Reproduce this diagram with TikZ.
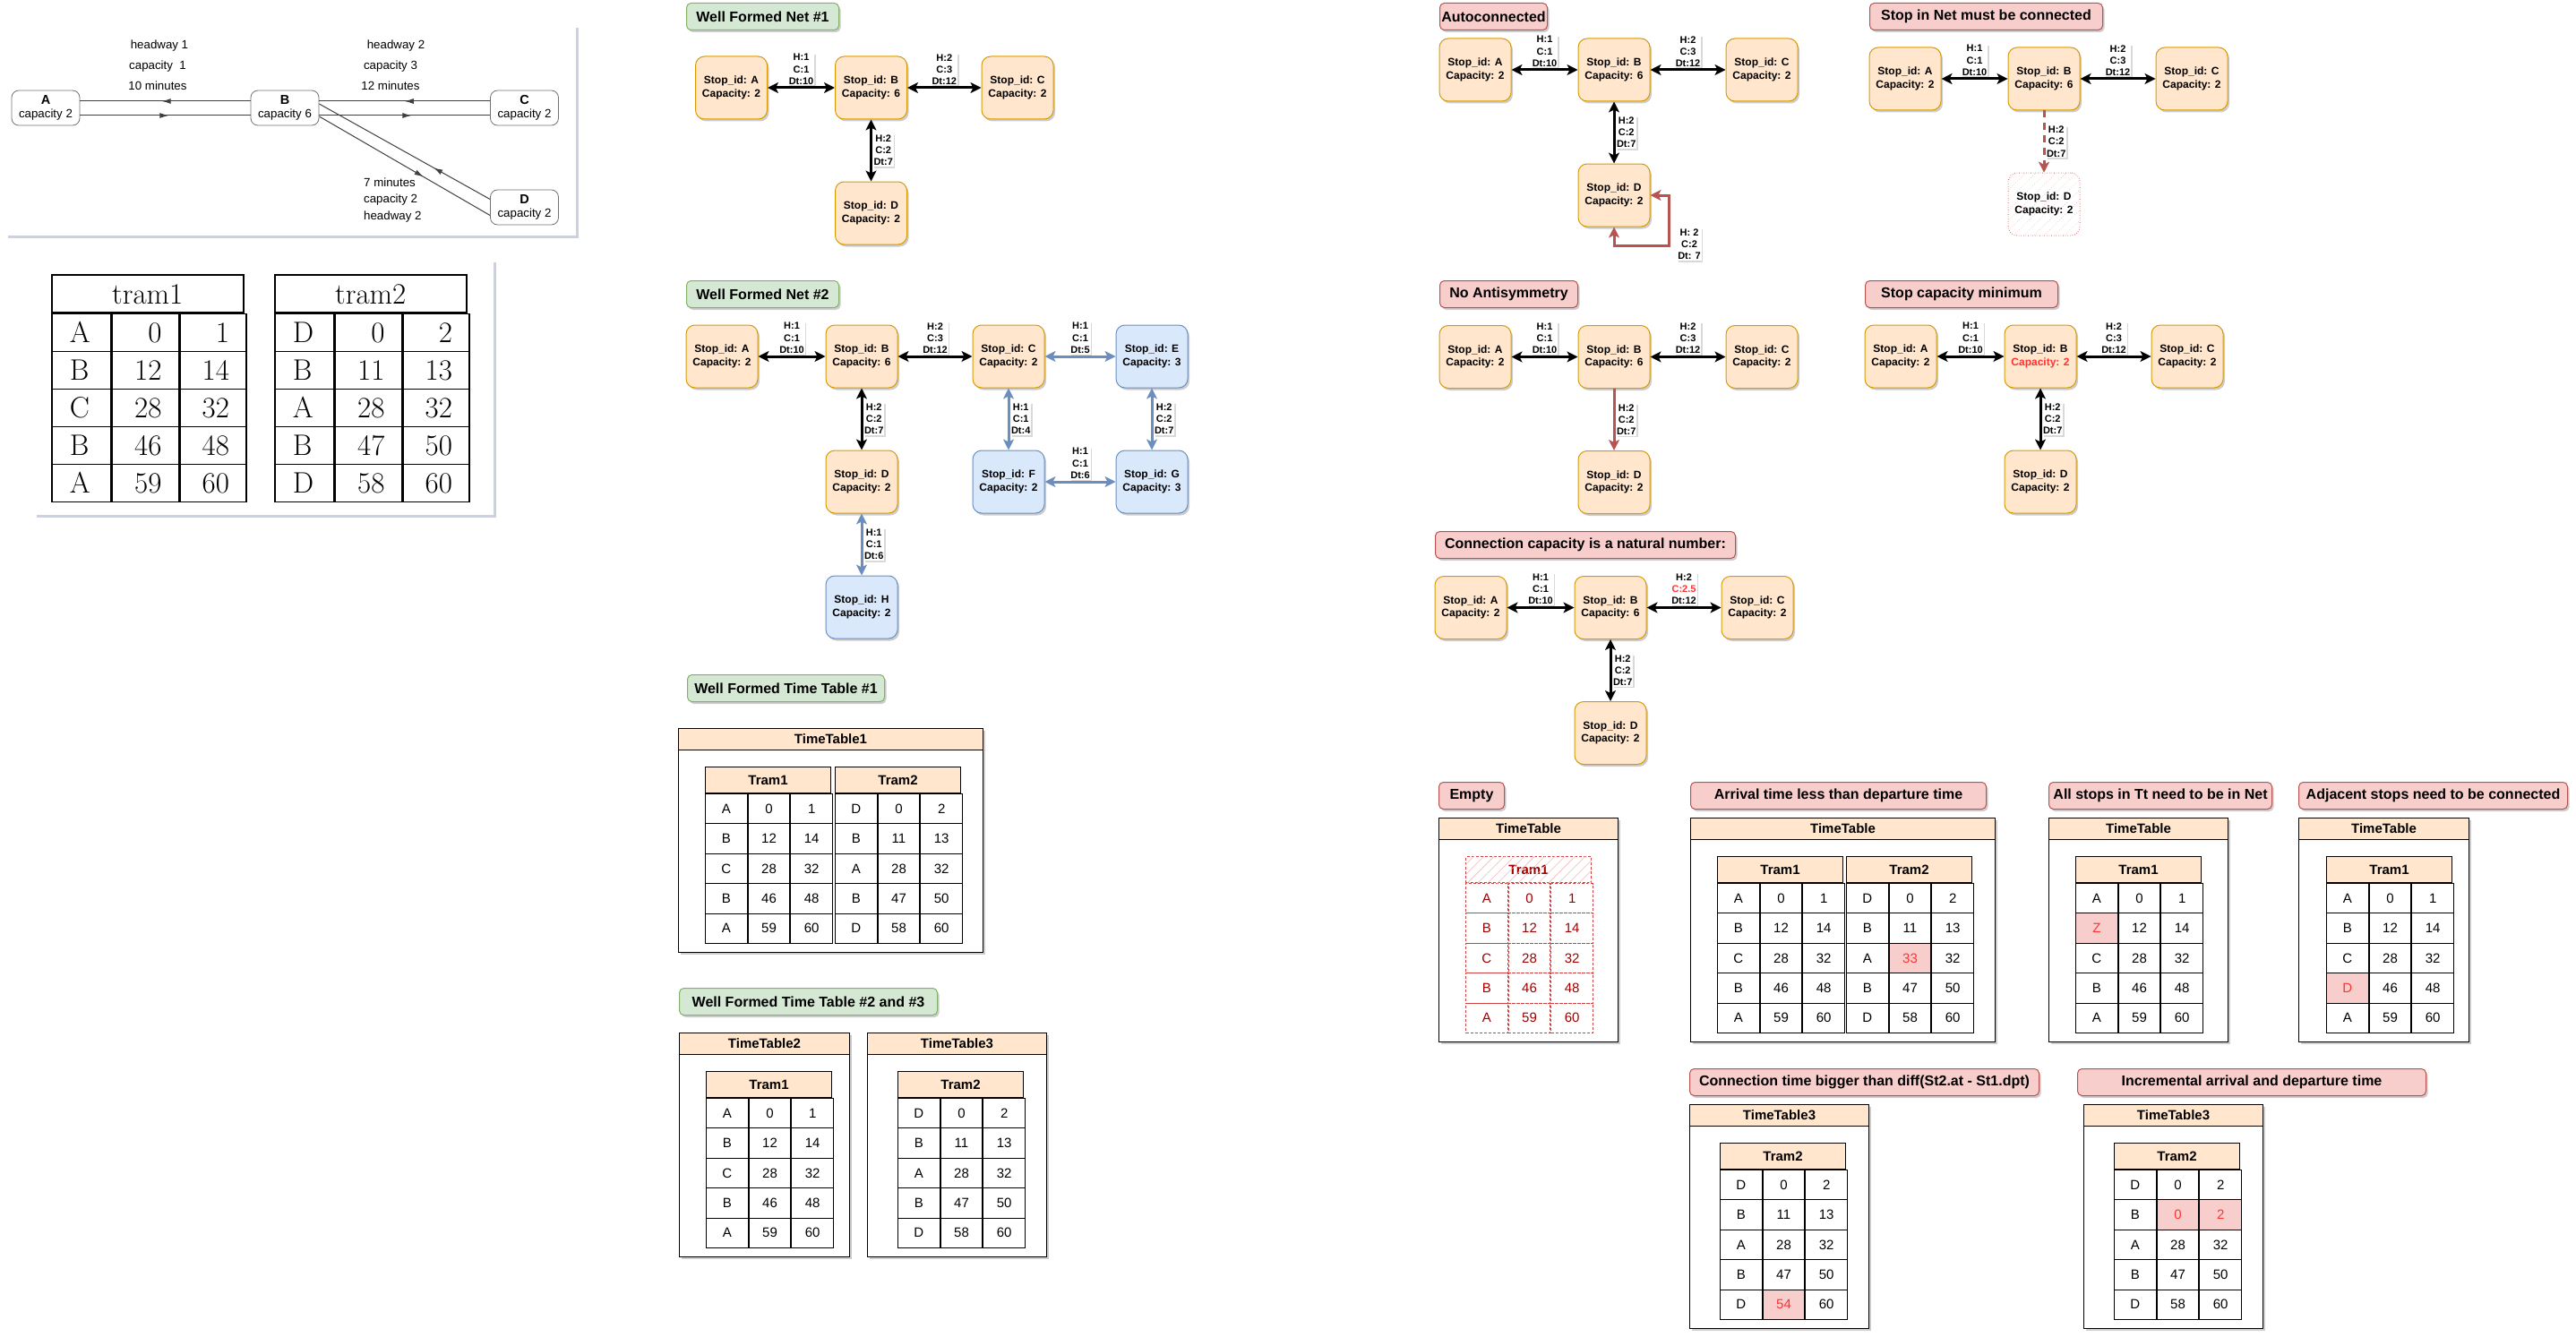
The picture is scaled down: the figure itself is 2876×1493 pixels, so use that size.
\documentclass[tikz,border=0pt]{standalone}
\usepackage{fontspec}
\newfontfamily\lsans{Liberation Sans}
\usetikzlibrary{arrows.meta,shadows,patterns.meta,decorations.markings}

\definecolor{stopfill}{HTML}{FFE6CC}
\definecolor{stopdraw}{HTML}{D79B00}
\definecolor{bluefill}{HTML}{DAE8FC}
\definecolor{bluedraw}{HTML}{6C8EBF}
\definecolor{okfill}{HTML}{D5E8D4}
\definecolor{okdraw}{HTML}{82B366}
\definecolor{badfill}{HTML}{F8CECC}
\definecolor{baddraw}{HTML}{B85450}
\definecolor{hotred}{HTML}{FF3333}
\definecolor{darkred}{HTML}{A00000}
\definecolor{emptyred}{HTML}{D04040}
\definecolor{hatchpink}{HTML}{F5B8B8}
\definecolor{panelshade}{HTML}{CBD0E2}

% table of one tram: name, top left, header, rows
\newcommand{\tramtab}[5][]{%
  \node[tabhead,#1] (#2h) at (#3) {#4};
  \foreach \s/\a/\d [count=\i] in {#5} {
    \node[tcell,#1] (#2s\i) at ([yshift={-(\i-1)*33.4pt}]#2h.south west) {\s};
    \node[tcell,#1] (#2a\i) at (#2s\i.north east) {\a};
    \node[tcell,#1] (#2d\i) at (#2a\i.north east) {\d};
  }
}
% frame of a time table: name, top left, width, title
\newcommand{\ttbox}[4]{%
  \node[ttframe,minimum width=#3] (#1) at (#2) {};
  \node[tthead,minimum width=#3] (#1h) at (#1.north west) {#4};
}
% scanned table
\newcommand{\scantab}[4]{%
  \node[scanhead] (#1h) at (#2) {#3};
  \foreach \s/\a/\d [count=\i] in {#4} {
    \node[scanl] (#1s\i) at ([yshift={-(\i-1)*42pt}]#1h.south west) {\s};
    \node[scanr] (#1a\i) at (#1s\i.north east) {\a};
    \node[scanr] (#1d\i) at (#1a\i.north east) {\d};
  }
}

\tikzset{
  >={Stealth[length=12pt,width=12pt,inset=3pt]},
  softshadow/.style={drop shadow={shadow xshift=2pt,shadow yshift=-2.5pt,opacity=0.2,fill=black}},
  okhead/.style={rectangle,rounded corners=5pt,draw=okdraw,fill=okfill,line width=1pt,
    minimum height=30pt,inner sep=0pt,anchor=north west,softshadow,
    font=\lsans\bfseries\fontsize{16}{19}\selectfont},
  badhead/.style={okhead,draw=baddraw,fill=badfill},
  stopbox/.style={rectangle,rounded corners=10pt,draw=stopdraw,fill=stopfill,line width=1pt,
    minimum width=80pt,minimum height=70pt,inner sep=2pt,align=center,softshadow,
    font=\lsans\bfseries\fontsize{12}{14.4}\selectfont},
  bluebox/.style={stopbox,draw=bluedraw,fill=bluefill},
  ghostbox/.style={rectangle,rounded corners=10pt,draw=emptyred!80,dotted,line width=1pt,
    pattern={Lines[angle=45,distance=8pt,line width=0.6pt]},pattern color=hatchpink,
    minimum width=80pt,minimum height=70pt,inner sep=2pt,align=center,
    font=\lsans\bfseries\fontsize{12}{14.4}\selectfont},
  conn/.style={line width=3pt,<->},
  oneway/.style={line width=3pt,->},
  elbl/.style={fill=white,inner sep=1pt,align=center,
    drop shadow={shadow xshift=1.5pt,shadow yshift=-1.5pt,opacity=0.15,fill=black},
    font=\lsans\bfseries\fontsize{11}{13.2}\selectfont},
  tcell/.style={rectangle,draw=black,line width=1pt,fill=white,anchor=north west,
    minimum width=46.67pt,minimum height=33.4pt,inner sep=0pt,
    font=\lsans\fontsize{15}{18}\selectfont},
  tabhead/.style={tcell,fill=stopfill,minimum width=140pt,minimum height=29pt,
    font=\lsans\bfseries\fontsize{15}{18}\selectfont},
  hlcell/.style={tcell,anchor=center,fill=badfill,text=hotred},
  emptycell/.style={draw=emptyred,dash pattern=on 3pt off 2pt,text=darkred,fill=none},
  ttframe/.style={rectangle,draw=black,line width=1pt,fill=white,anchor=north west,
    minimum height=250pt,inner sep=0pt,softshadow},
  tthead/.style={rectangle,draw=black,line width=1pt,fill=stopfill,anchor=north west,
    minimum height=24pt,inner sep=0pt,font=\lsans\bfseries\fontsize{15}{18}\selectfont},
  panel/.style={rectangle,fill=white,anchor=north west,inner sep=0pt,
    drop shadow={shadow xshift=3pt,shadow yshift=-3pt,opacity=1,fill=panelshade}},
  tnode/.style={rectangle,rounded corners=8pt,draw=black!55,fill=white,line width=0.8pt,
    minimum width=76pt,minimum height=39pt,inner sep=0pt,align=center,
    font=\lsans\fontsize{13.3}{14.5}\selectfont},
  tnote/.style={inner sep=0pt,font=\lsans\fontsize{13.3}{14}\selectfont},
  tline/.style={draw=black!75,line width=1pt},
  tflow/.style={tline,postaction={decorate},
    decoration={markings,mark=at position #1 with {\arrow{Latex[length=10pt,width=6pt]}}}},
  scanl/.style={rectangle,draw=black,line width=1.6pt,anchor=north west,
    minimum height=42pt,text width=26pt,inner xsep=20pt,inner ysep=0pt,align=left,
    text height=23pt,text depth=0pt,font=\fontsize{33}{36}\selectfont},
  scanr/.style={scanl,text width=36pt,inner xsep=19pt,align=right},
  scanhead/.style={scanl,text width=174pt,align=center},
}

\begin{document}
\begin{tikzpicture}[x=1pt,y=-1pt]
  \useasboundingbox (0,0) rectangle (2876,1493);

  % scanned net
  \node[panel,minimum width=637pt,minimum height=235pt] (pan1) at (6,28) {};
  \node[tnode] (ta) at (51,120.5) {{\fontsize{14.5}{14.5}\selectfont\bfseries A}\\capacity 2};
  \node[tnode] (tb) at (318,120.5) {{\fontsize{14.5}{14.5}\selectfont\bfseries B}\\capacity 6};
  \node[tnode] (tc) at (585.5,120.5) {{\fontsize{14.5}{14.5}\selectfont\bfseries C}\\capacity 2};
  \node[tnode] (td) at (585.5,231.5) {{\fontsize{14.5}{14.5}\selectfont\bfseries D}\\capacity 2};
  \draw[tflow=0.52] ([yshift=7.5pt]tb.west) -- ([yshift=7.5pt]ta.east);
  \draw[tflow=0.52] ([yshift=-8.5pt]ta.east) -- ([yshift=-8.5pt]tb.west);
  \draw[tflow=0.5] ([yshift=7.5pt]tc.west) -- ([yshift=7.5pt]tb.east);
  \draw[tflow=0.54] ([yshift=-8.5pt]tb.east) -- ([yshift=-8.5pt]tc.west);
  \draw[tflow=0.33] ([yshift=9pt]td.west) -- ([yshift=4.5pt]tb.east);
  \draw[tflow=0.61] ([yshift=-9.5pt]tb.east) -- ([yshift=-9pt]td.west);
  \node[tnote] (hw1) at (178,51.5) {headway 1};
  \node[tnote] (cp1) at (176,74) {capacity\ \ 1};
  \node[tnote] (mn1) at (176,96) {10 minutes};
  \node[tnote] (hw2) at (442,51.5) {headway 2};
  \node[tnote] (cp2) at (436,74) {capacity 3};
  \node[tnote] (mn2) at (436,96) {12 minutes};
  \node[tnote,anchor=west] (mn3) at (406,204) {7 minutes};
  \node[tnote,anchor=west] (cp3) at (406,223) {capacity 2};
  \node[tnote,anchor=west] (hw3) at (406,242) {headway 2};

  % scanned tables
  \node[panel,minimum width=513pt,minimum height=285pt] (pan2) at (38,290) {};
  \scantab{sa}{57,306}{tram1}{A/0/1,B/12/14,C/28/32,B/46/48,A/59/60}
  \scantab{sb}{306,306}{tram2}{D/0/2,B/11/13,A/28/32,B/47/50,D/58/60}

  % well formed net 1
  \node[okhead,minimum width=170pt] (n1t) at (766,3) {Well Formed Net \#1};
  \node[stopbox] (n1a) at (816.5,98) {Stop\_id: A\\Capacity: 2};
  \node[stopbox] (n1b) at (972.5,98) {Stop\_id: B\\Capacity: 6};
  \node[stopbox] (n1c) at (1136,98) {Stop\_id: C\\Capacity: 2};
  \node[stopbox] (n1d) at (972.5,238) {Stop\_id: D\\Capacity: 2};
  \draw[conn] (n1a) -- (n1b) node[midway,above=1pt,elbl] {H:1\\C:1\\Dt:10};
  \draw[conn] (n1b) -- (n1c) node[midway,above=1pt,elbl] {H:2\\C:3\\Dt:12};
  \draw[conn] (n1b) -- (n1d) node[midway,right=0.5pt,elbl] {H:2\\C:2\\Dt:7};

  % well formed net 2
  \node[okhead,minimum width=170pt] (n2t) at (766,313) {Well Formed Net \#2};
  \node[stopbox] (n2a) at (806,398) {Stop\_id: A\\Capacity: 2};
  \node[stopbox] (n2b) at (962,398) {Stop\_id: B\\Capacity: 6};
  \node[stopbox] (n2c) at (1126,398) {Stop\_id: C\\Capacity: 2};
  \node[bluebox] (n2e) at (1286,398) {Stop\_id: E\\Capacity: 3};
  \node[stopbox] (n2d) at (962,538) {Stop\_id: D\\Capacity: 2};
  \node[bluebox] (n2f) at (1126,538) {Stop\_id: F\\Capacity: 2};
  \node[bluebox] (n2g) at (1286,538) {Stop\_id: G\\Capacity: 3};
  \node[bluebox] (n2h) at (962,678) {Stop\_id: H\\Capacity: 2};
  \draw[conn] (n2a) -- (n2b) node[midway,above=1pt,elbl] {H:1\\C:1\\Dt:10};
  \draw[conn] (n2b) -- (n2c) node[midway,above=1pt,elbl] {H:2\\C:3\\Dt:12};
  \draw[conn,draw=bluedraw] (n2c) -- (n2e) node[midway,above=1pt,elbl] {H:1\\C:1\\Dt:5};
  \draw[conn] (n2b) -- (n2d) node[midway,right=0.5pt,elbl] {H:2\\C:2\\Dt:7};
  \draw[conn,draw=bluedraw] (n2c) -- (n2f) node[midway,right=0.5pt,elbl] {H:1\\C:1\\Dt:4};
  \draw[conn,draw=bluedraw] (n2e) -- (n2g) node[midway,right=0.5pt,elbl] {H:2\\C:2\\Dt:7};
  \draw[conn,draw=bluedraw] (n2f) -- (n2g) node[midway,above=1pt,elbl] {H:1\\C:1\\Dt:6};
  \draw[conn,draw=bluedraw] (n2d) -- (n2h) node[midway,right=0.5pt,elbl] {H:1\\C:1\\Dt:6};

  % well formed time tables
  \node[okhead,minimum width=220pt] (wt1) at (767,753) {Well Formed Time Table \#1};
  \ttbox{tt1}{757,813}{340pt}{TimeTable1}
  \tramtab{tt1a}{787,856}{Tram1}{A/0/1,B/12/14,C/28/32,B/46/48,A/59/60}
  \tramtab{tt1b}{932,856}{Tram2}{D/0/2,B/11/13,A/28/32,B/47/50,D/58/60}

  \node[okhead,minimum width=288pt] (wt2) at (758,1103) {Well Formed Time Table \#2 and \#3};
  \ttbox{tt2}{758,1153}{190pt}{TimeTable2}
  \tramtab{tt2a}{788,1196}{Tram1}{A/0/1,B/12/14,C/28/32,B/46/48,A/59/60}
  \ttbox{tt3}{968,1153}{200pt}{TimeTable3}
  \tramtab{tt3a}{1002,1196}{Tram2}{D/0/2,B/11/13,A/28/32,B/47/50,D/58/60}

  % autoconnected
  \node[badhead,minimum width=120pt] (act) at (1607,3) {Autoconnected};
  \node[stopbox] (aca) at (1647,78) {Stop\_id: A\\Capacity: 2};
  \node[stopbox] (acb) at (1802,78) {Stop\_id: B\\Capacity: 6};
  \node[stopbox] (acc) at (1967,78) {Stop\_id: C\\Capacity: 2};
  \node[stopbox] (acd) at (1802,218) {Stop\_id: D\\Capacity: 2};
  \draw[conn] (aca) -- (acb) node[midway,above=1pt,elbl] {H:1\\C:1\\Dt:10};
  \draw[conn] (acb) -- (acc) node[midway,above=1pt,elbl] {H:2\\C:3\\Dt:12};
  \draw[conn] (acb) -- (acd) node[midway,right=0.5pt,elbl] {H:2\\C:2\\Dt:7};
  \draw[conn,draw=baddraw] (acd.south) -- ++(0,21) -| ([xshift=21pt]acd.east) -- (acd.east);
  \node[elbl] (acl) at (1886,273) {H: 2\\C:2\\Dt: 7};

  % stop in net must be connected
  \node[badhead,minimum width=260pt] (snt) at (2087,3) {Stop in Net must be connected};
  \node[stopbox] (sna) at (2127,88) {Stop\_id: A\\Capacity: 2};
  \node[stopbox] (snb) at (2282,88) {Stop\_id: B\\Capacity: 6};
  \node[stopbox] (snc) at (2447,88) {Stop\_id: C\\Capacity: 2};
  \node[ghostbox] (snd) at (2282,228) {Stop\_id: D\\Capacity: 2};
  \draw[conn] (sna) -- (snb) node[midway,above=1pt,elbl] {H:1\\C:1\\Dt:10};
  \draw[conn] (snb) -- (snc) node[midway,above=1pt,elbl] {H:2\\C:3\\Dt:12};
  \draw[oneway,draw=baddraw,dash pattern=on 8pt off 6pt] (snb) -- (snd)
    node[midway,right=0.5pt,elbl] {H:2\\C:2\\Dt:7};

  % no antisymmetry
  \node[badhead,minimum width=154pt] (nat) at (1607,313) {No Antisymmetry};
  \node[stopbox] (naa) at (1647,398.5) {Stop\_id: A\\Capacity: 2};
  \node[stopbox] (nab) at (1802,398.5) {Stop\_id: B\\Capacity: 6};
  \node[stopbox] (nac) at (1967,398.5) {Stop\_id: C\\Capacity: 2};
  \node[stopbox] (nad) at (1802,538.5) {Stop\_id: D\\Capacity: 2};
  \draw[conn] (naa) -- (nab) node[midway,above=1pt,elbl] {H:1\\C:1\\Dt:10};
  \draw[conn] (nab) -- (nac) node[midway,above=1pt,elbl] {H:2\\C:3\\Dt:12};
  \draw[oneway,draw=baddraw] (nab) -- (nad) node[midway,right=0.5pt,elbl] {H:2\\C:2\\Dt:7};

  % stop capacity minimum
  \node[badhead,minimum width=215pt] (cmt) at (2082,313) {Stop capacity minimum};
  \node[stopbox] (cma) at (2122,398) {Stop\_id: A\\Capacity: 2};
  \node[stopbox] (cmb) at (2278,398) {Stop\_id: B\\\textcolor{hotred}{Capacity: 2}};
  \node[stopbox] (cmc) at (2442,398) {Stop\_id: C\\Capacity: 2};
  \node[stopbox] (cmd) at (2278,538) {Stop\_id: D\\Capacity: 2};
  \draw[conn] (cma) -- (cmb) node[midway,above=1pt,elbl] {H:1\\C:1\\Dt:10};
  \draw[conn] (cmb) -- (cmc) node[midway,above=1pt,elbl] {H:2\\C:3\\Dt:12};
  \draw[conn] (cmb) -- (cmd) node[midway,right=0.5pt,elbl] {H:2\\C:2\\Dt:7};

  % connection capacity
  \node[badhead,minimum width=335pt] (cct) at (1602,593) {Connection capacity is a natural number:};
  \node[stopbox] (cca) at (1642,678.5) {Stop\_id: A\\Capacity: 2};
  \node[stopbox] (ccb) at (1798,678.5) {Stop\_id: B\\Capacity: 6};
  \node[stopbox] (ccc) at (1962,678.5) {Stop\_id: C\\Capacity: 2};
  \node[stopbox] (ccd) at (1798,818.5) {Stop\_id: D\\Capacity: 2};
  \draw[conn] (cca) -- (ccb) node[midway,above=1pt,elbl] {H:1\\C:1\\Dt:10};
  \draw[conn] (ccb) -- (ccc) node[midway,above=1pt,elbl] {H:2\\\textcolor{hotred}{C:2.5}\\Dt:12};
  \draw[conn] (ccb) -- (ccd) node[midway,right=0.5pt,elbl] {H:2\\C:2\\Dt:7};

  % empty
  \node[badhead,minimum width=73pt] (emt) at (1606,873) {Empty};
  \ttbox{emb}{1606,913}{200pt}{TimeTable}
  \tramtab[emptycell]{em}{1636,956}{Tram1}{A/0/1,B/12/14,C/28/32,B/46/48,A/59/60}
  \path[pattern={Lines[angle=45,distance=8pt,line width=0.6pt]},pattern color=hatchpink]
    (emh.south west) rectangle (emh.north east);

  % arrival time
  \node[badhead,minimum width=330pt] (art) at (1887,873) {Arrival time less than departure time};
  \ttbox{arb}{1887,913}{340pt}{TimeTable}
  \tramtab{ar1}{1917,956}{Tram1}{A/0/1,B/12/14,C/28/32,B/46/48,A/59/60}
  \tramtab{ar2}{2061,956}{Tram2}{D/0/2,B/11/13,A/33/32,B/47/50,D/58/60}
  \node[hlcell] (arx) at (ar2a3) {33};

  % all stops
  \node[badhead,minimum width=249pt] (alt) at (2287,873) {All stops in Tt need to be in Net};
  \ttbox{alb}{2287,913}{200pt}{TimeTable}
  \tramtab{al}{2317,956}{Tram1}{A/0/1,Z/12/14,C/28/32,B/46/48,A/59/60}
  \node[hlcell] (alx) at (als2) {Z};

  % adjacent stops
  \node[badhead,minimum width=300pt] (adt) at (2566,873) {Adjacent stops need to be connected};
  \ttbox{adb}{2566,913}{190pt}{TimeTable}
  \tramtab{ad}{2597,956}{Tram1}{A/0/1,B/12/14,C/28/32,D/46/48,A/59/60}
  \node[hlcell] (adx) at (ads4) {D};

  % connection time
  \node[badhead,minimum width=390pt] (cot) at (1886,1193) {Connection time bigger than diff(St2.at - St1.dpt)};
  \ttbox{cob}{1886,1233}{200pt}{TimeTable3}
  \tramtab{co}{1920,1276}{Tram2}{D/0/2,B/11/13,A/28/32,B/47/50,D/54/60}
  \node[hlcell] (cox) at (coa5) {54};

  % incremental
  \node[badhead,minimum width=389pt] (int) at (2319,1193) {Incremental arrival and departure time};
  \ttbox{inb}{2326,1233}{200pt}{TimeTable3}
  \tramtab{in}{2360,1276}{Tram2}{D/0/2,B/0/2,A/28/32,B/47/50,D/58/60}
  \node[hlcell] (inx) at (ina2) {0};
  \node[hlcell] (iny) at (ind2) {2};
\end{tikzpicture}
\end{document}
